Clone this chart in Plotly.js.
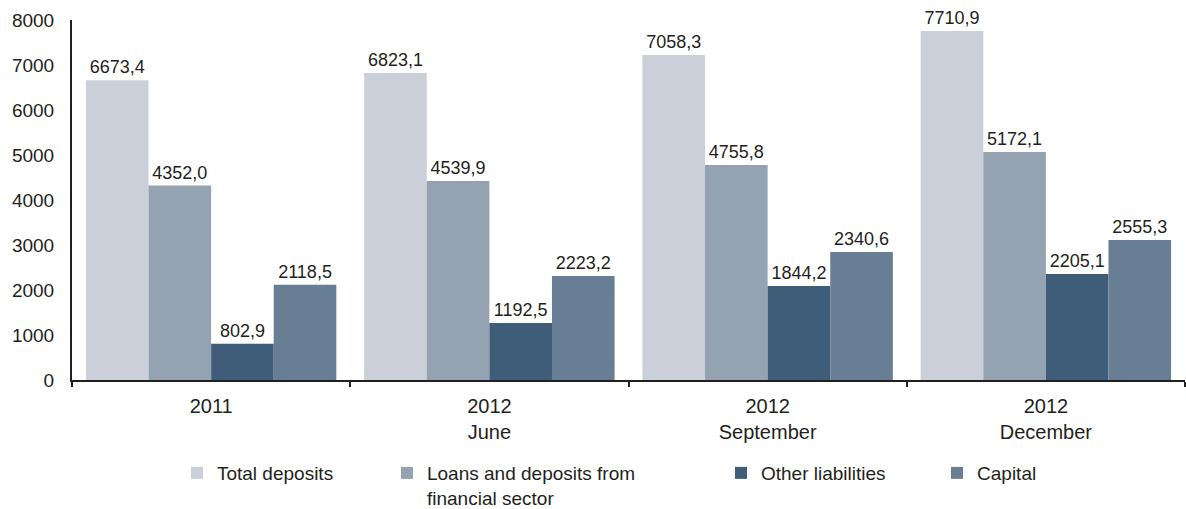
<!DOCTYPE html>
<html>
<head>
<meta charset="utf-8">
<script src="https://cdn.plot.ly/plotly-3.0.1.min.js"></script>
<style>html,body{margin:0;padding:0;background:#fff;}#chart{width:1186px;height:509px;}</style>
</head>
<body>
<div id="chart"></div>
<script>
// Categories (x-axis tick labels)
const categories = ["2011", "2012<br>June", "2012<br>September", "2012<br>December"];

// Series names
const seriesNames = ["Total deposits", "Loans and deposits from<br>financial sector", "Other liabilities", "Capital"];

// Bar heights as drawn in the picture
const totalDeposits = [6660, 6825, 7222, 7756];
const loansDeposits = [4320, 4422, 4778, 5067];
const otherLiabilities = [805, 1267, 2089, 2356];
const capital = [2115, 2311, 2844, 3111];

// Value labels as printed above the bars
const totalDepositsLabels = ["6673,4", "6823,1", "7058,3", "7710,9"];
const loansDepositsLabels = ["4352,0", "4539,9", "4755,8", "5172,1"];
const otherLiabilitiesLabels = ["802,9", "1192,5", "1844,2", "2205,1"];
const capitalLabels = ["2118,5", "2223,2", "2340,6", "2555,3"];

// Y-axis ticks
const yTicks = [0, 1000, 2000, 3000, 4000, 5000, 6000, 7000, 8000];

const colors = ["#cacfd9", "#95a2b2", "#3f5d79", "#687e95"];
const values = [totalDeposits, loansDeposits, otherLiabilities, capital];
const labels = [totalDepositsLabels, loansDepositsLabels, otherLiabilitiesLabels, capitalLabels];
const legendIds = ["legend", "legend2", "legend3", "legend4"];

const FONT = '"Liberation Sans", Arial, sans-serif';
const TXT = '#231f20';

const traces = values.map((v, i) => ({
  type: 'bar',
  name: seriesNames[i],
  x: categories,
  y: v,
  text: labels[i],
  textposition: 'outside',
  constraintext: 'none',
  cliponaxis: false,
  textfont: {family: FONT, size: 18, color: TXT},
  marker: {color: colors[i], line: {width: 0}},
  legend: legendIds[i],
  hoverinfo: 'skip'
}));

const legendBase = {
  orientation: 'v',
  xref: 'paper',
  yref: 'container',
  yanchor: 'top',
  xanchor: 'left',
  y: 0.108,
  valign: 'top',
  bgcolor: 'rgba(0,0,0,0)',
  font: {family: FONT, size: 19, color: TXT}
};

const layout = {
  width: 1186,
  height: 509,
  margin: {l: 72, r: 1, t: 20, b: 129, autoexpand: false},
  paper_bgcolor: '#ffffff',
  plot_bgcolor: '#ffffff',
  font: {family: FONT, color: TXT},
  barmode: 'group',
  bargap: 0.1,
  bargroupgap: 0,
  showlegend: true,
  xaxis: {
    type: 'category',
    showline: true,
    linecolor: TXT,
    linewidth: 2,
    ticks: 'outside',
    tickson: 'boundaries',
    ticklen: 5,
    tickwidth: 2,
    tickcolor: TXT,
    showgrid: false,
    ticklabelstandoff: 7,
    tickfont: {family: FONT, size: 20, color: TXT},
    fixedrange: true
  },
  yaxis: {
    range: [0, 8000],
    tickvals: yTicks,
    ticktext: yTicks.map(String),
    showline: true,
    linecolor: TXT,
    linewidth: 2,
    ticks: '',
    showgrid: false,
    zeroline: false,
    ticklabelstandoff: 12,
    tickfont: {family: FONT, size: 19, color: TXT},
    fixedrange: true
  },
  legend: Object.assign({}, legendBase, {x: 0.0943}),
  legend2: Object.assign({}, legendBase, {x: 0.2830}),
  legend3: Object.assign({}, legendBase, {x: 0.5831}),
  legend4: Object.assign({}, legendBase, {x: 0.7772})
};

Plotly.newPlot('chart', traces, layout, {displayModeBar: false, staticPlot: true});
</script>
</body>
</html>
